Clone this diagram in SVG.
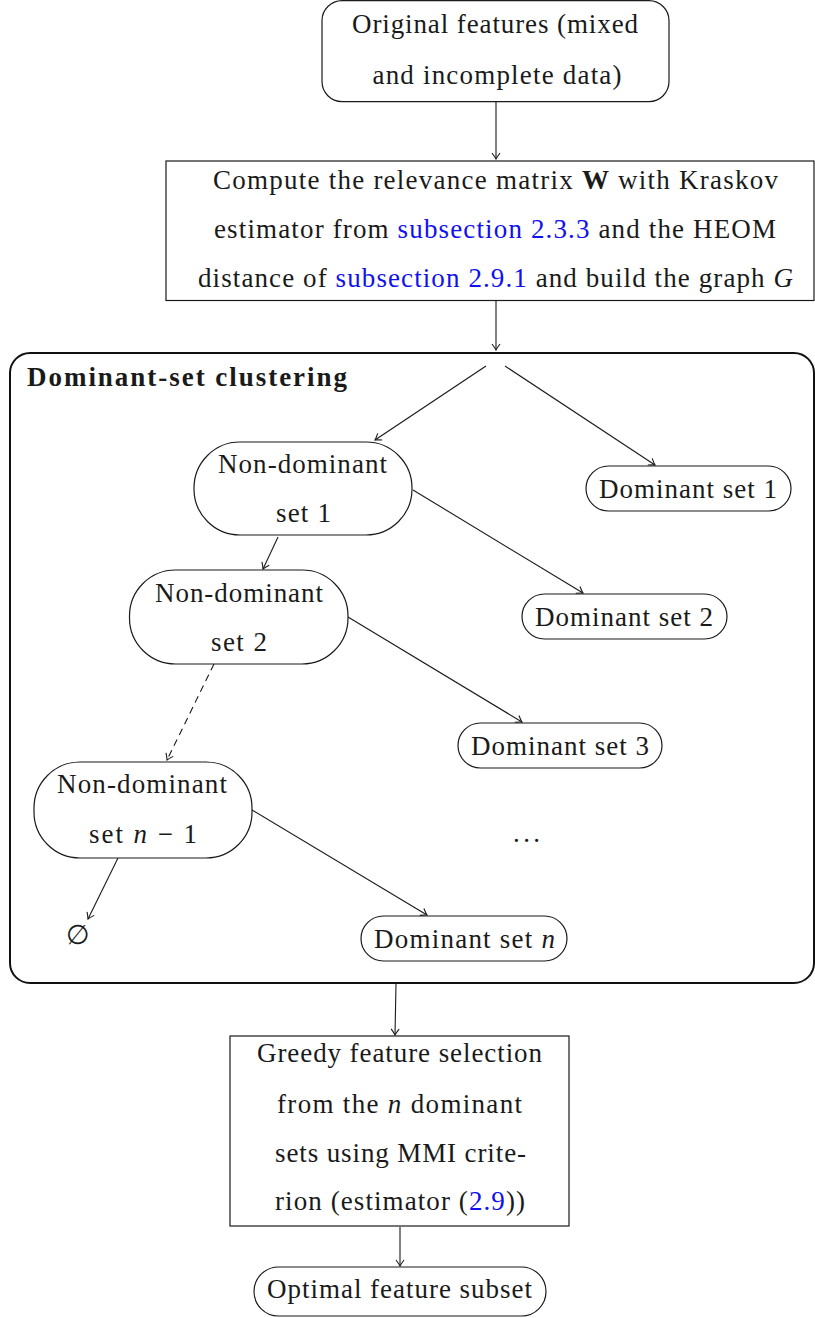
<svg xmlns="http://www.w3.org/2000/svg" width="815" height="1318" viewBox="0 0 815 1318" font-family="'Liberation Serif', 'Times New Roman', 'DejaVu Serif', serif">
<style>
text{font-family:'Liberation Serif','Times New Roman','DejaVu Serif',serif;font-size:27px;fill:#1a1a1a;text-anchor:middle}
.b{font-weight:bold;text-anchor:start}
.lnk{fill:#1010f0}
.node{fill:#fff;stroke:#1a1a1a;stroke-width:1.2}
.edge{fill:none;stroke:#1a1a1a;stroke-width:1.1;marker-end:url(#ar)}
.dash{stroke-dasharray:7 5}
</style>
<defs>
<marker id="ar" viewBox="-8 -5 10 10" refX="0" refY="0" markerWidth="10" markerHeight="10" markerUnits="userSpaceOnUse" orient="auto">
<path d="M-6,-4 Q-2,-1 0,0 Q-2,1 -6,4" fill="none" stroke="#1a1a1a" stroke-width="1.1"/>
</marker>
</defs>
<g id="cluster">
<rect x="10" y="353" width="804" height="630" rx="20" fill="none" stroke="#111" stroke-width="2"/>
<text class="b" x="27" y="386" textLength="320" lengthAdjust="spacing">Dominant-set clustering</text>
</g>
<g id="edges">
<line class="edge" x1="496" y1="102" x2="496" y2="159"/>
<line class="edge" x1="496" y1="301" x2="496" y2="350"/>
<line class="edge" x1="486" y1="366" x2="375" y2="440"/>
<line class="edge" x1="505" y1="366" x2="655" y2="465"/>
<line class="edge" x1="413" y1="490" x2="583" y2="593"/>
<line class="edge" x1="278" y1="537" x2="263" y2="569"/>
<line class="edge" x1="348" y1="617" x2="522" y2="722"/>
<line class="edge dash" x1="214" y1="664" x2="167" y2="760"/>
<line class="edge" x1="252" y1="810" x2="427" y2="915"/>
<line class="edge" x1="118" y1="858" x2="88" y2="919"/>
<line class="edge" x1="396" y1="984" x2="395" y2="1035"/>
<line class="edge" x1="400" y1="1227" x2="400" y2="1266"/>
</g>
<g id="n-original">
<rect class="node" x="322" y="0.6" width="347" height="101" rx="20"/>
<text x="495" y="33" textLength="286" lengthAdjust="spacing">Original features (mixed</text>
<text x="497" y="84" textLength="249" lengthAdjust="spacing">and incomplete data)</text>
</g>
<g id="n-compute">
<rect class="node" x="166" y="161" width="648" height="139.5"/>
<text x="495.5" y="189" textLength="565" lengthAdjust="spacing">Compute the relevance matrix <tspan font-weight="bold">W</tspan> with Kraskov</text>
<text x="495" y="238" textLength="562" lengthAdjust="spacing">estimator from <tspan class="lnk">subsection 2.3.3</tspan> and the HEOM</text>
<text x="495.5" y="287" textLength="595" lengthAdjust="spacing">distance of <tspan class="lnk">subsection 2.9.1</tspan> and build the graph <tspan font-style="italic">G</tspan></text>
</g>
<g id="n-nd1">
<rect class="node" x="194" y="442" width="218" height="93" rx="46"/>
<text x="302.5" y="473" textLength="169" lengthAdjust="spacing">Non-dominant</text>
<text x="303.5" y="522" textLength="55" lengthAdjust="spacing">set 1</text>
</g>
<g id="n-d1">
<rect class="node" x="586" y="466" width="205" height="45" rx="22.5"/>
<text x="688" y="498" textLength="178" lengthAdjust="spacing">Dominant set 1</text>
</g>
<g id="n-nd2">
<rect class="node" x="129.5" y="570" width="218.5" height="94" rx="46"/>
<text x="239" y="602" textLength="168" lengthAdjust="spacing">Non-dominant</text>
<text x="239" y="651" textLength="56" lengthAdjust="spacing">set 2</text>
</g>
<g id="n-d2">
<rect class="node" x="522" y="594" width="205" height="45" rx="22.5"/>
<text x="624" y="626" textLength="178" lengthAdjust="spacing">Dominant set 2</text>
</g>
<g id="n-d3">
<rect class="node" x="458" y="723" width="204" height="45" rx="22.5"/>
<text x="560" y="755" textLength="178" lengthAdjust="spacing">Dominant set 3</text>
</g>
<g id="n-ndn1">
<rect class="node" x="34" y="762" width="218" height="96" rx="46"/>
<text x="142" y="793" textLength="170" lengthAdjust="spacing">Non-dominant</text>
<text x="143" y="843" textLength="108" lengthAdjust="spacing">set <tspan font-style="italic">n</tspan> − 1</text>
</g>
<g id="n-dots">
<text x="526.5" y="842" textLength="27" lengthAdjust="spacing">...</text>
</g>
<g id="n-dn">
<rect class="node" x="361" y="916" width="206" height="45" rx="22.5"/>
<text x="464.5" y="948" textLength="181" lengthAdjust="spacing">Dominant set <tspan font-style="italic">n</tspan></text>
</g>
<g id="n-empty">
<text x="78" y="944">∅</text>
</g>
<g id="n-greedy">
<rect class="node" x="230" y="1036" width="339" height="190"/>
<text x="399.5" y="1062" textLength="285" lengthAdjust="spacing">Greedy feature selection</text>
<text x="399.5" y="1113" textLength="245" lengthAdjust="spacing">from the <tspan font-style="italic">n</tspan> dominant</text>
<text x="400.5" y="1162" textLength="251" lengthAdjust="spacing">sets using MMI crite-</text>
<text x="400" y="1210" textLength="250" lengthAdjust="spacing">rion (estimator (<tspan class="lnk">2.9</tspan>))</text>
</g>
<g id="n-optimal">
<rect class="node" x="254" y="1267" width="292" height="49" rx="24.5"/>
<text x="399.5" y="1298" textLength="265" lengthAdjust="spacing">Optimal feature subset</text>
</g>
</svg>
